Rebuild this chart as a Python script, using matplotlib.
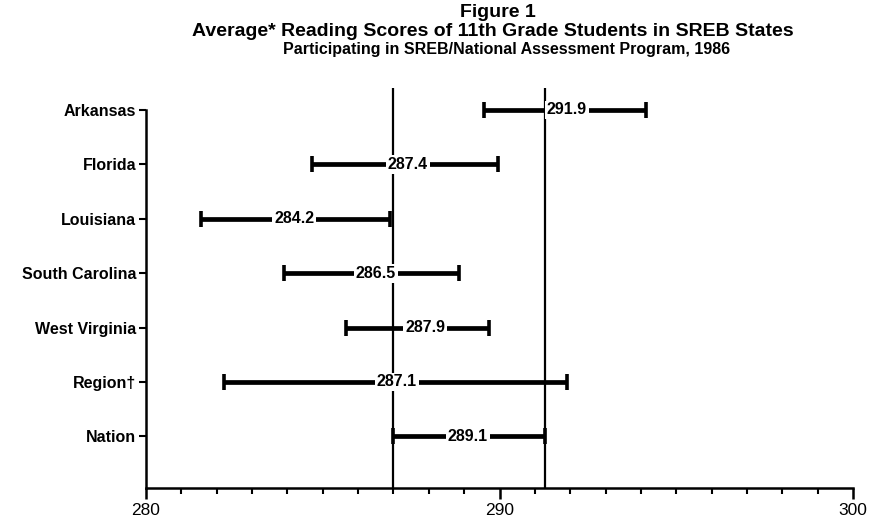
import matplotlib
matplotlib.use("Agg")
import matplotlib.pyplot as plt
import numpy as np

states = ["Arkansas", "Florida", "Louisiana", "South Carolina", "West Virginia", "Region\u2020", "Nation"]
means = [291.9, 287.4, 284.2, 286.5, 287.9, 287.1, 289.1]
low = [289.55, 284.7, 281.55, 283.9, 285.65, 282.2, 287.0]
high = [294.15, 289.95, 286.9, 288.85, 289.7, 291.9, 291.3]
nation_band = [287.0, 291.3]
xticks_major = [280, 290, 300]

plt.rcParams['font.family'] = ['Liberation Sans', 'DejaVu Sans']

fig = plt.figure(figsize=(8.7, 5.22), dpi=100)
ax = fig.add_axes([0.1678, 0.0651, 0.8127, 0.7816])

y = np.arange(len(states))
m = np.array(means)
lo = np.array(low)
hi = np.array(high)

ax.set_xlim(280, 300)
ax.set_ylim(6.95, -0.55)

# vertical reference lines (national interval)
ax.vlines(nation_band, -0.4, 6.95, color='black', lw=1.6, zorder=1)

ax.errorbar(m, y, xerr=[m - lo, hi - m], fmt='none', ecolor='black',
            elinewidth=3.4, capsize=5.5, capthick=2.6, zorder=2)

for yi, mi in zip(y, m):
    ax.text(mi, yi, f"{mi:.1f}", ha='center', va='center', fontsize=11.5,
            fontweight='bold',
            bbox=dict(boxstyle='square,pad=0.12', fc='white', ec='none'), zorder=3)

ax.set_yticks(y)
ax.set_yticklabels(states, fontsize=11.5, fontweight='bold')
ax.set_xticks(xticks_major)
ax.set_xticklabels([str(t) for t in xticks_major], fontsize=12.5)
ax.set_xticks(np.arange(280, 301, 1), minor=True)

for s in ['top', 'right']:
    ax.spines[s].set_visible(False)
ax.spines['left'].set_bounds(0, 6.95)
ax.spines['left'].set_linewidth(1.8)
ax.spines['bottom'].set_linewidth(1.8)

ax.tick_params(axis='x', which='major', direction='out', length=8, width=1.8, pad=3)
ax.tick_params(axis='x', which='minor', direction='out', length=4.5, width=1.5)
ax.tick_params(axis='y', which='major', direction='out', length=5, width=1.5, pad=2)

fig.text(0.572, 0.977, "Figure 1", ha='center', va='center', fontsize=14, fontweight='bold')
fig.text(0.566, 0.940, "Average* Reading Scores of 11th Grade Students in SREB States",
         ha='center', va='center', fontsize=14, fontweight='bold')
fig.text(0.582, 0.906, "Participating in SREB/National Assessment Program, 1986",
         ha='center', va='center', fontsize=11.5, fontweight='bold')

fig.savefig("out.png", dpi=100)
